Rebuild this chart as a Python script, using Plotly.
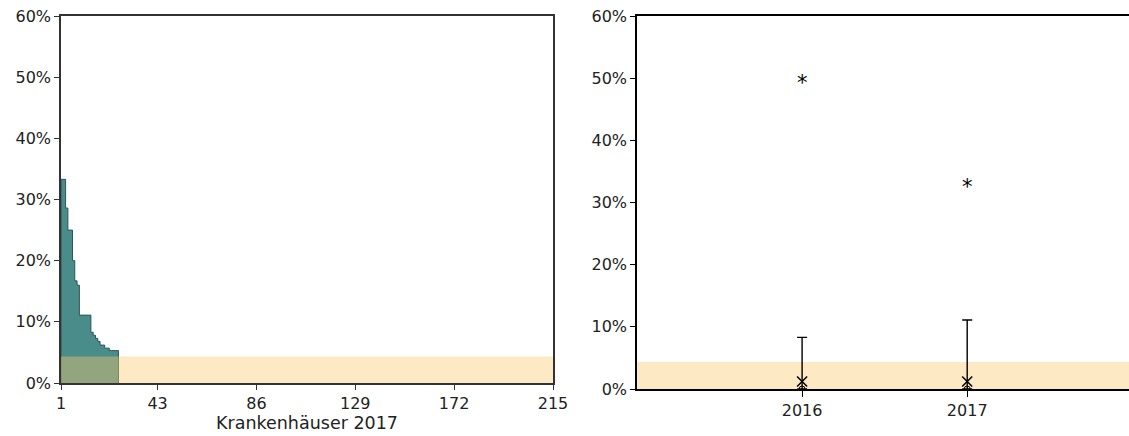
"""
Krankenhaus-Raten 2017: Verteilung je Haus und Vergleich 2016/2017
"""

import plotly.graph_objects as go

# Sortierte Raten je Krankenhaus 2017 (in %)
hospitals = list(range(1, 26))
rates_2017 = [33.3, 33.3, 28.6, 25.0, 25.0, 20.0, 16.7, 16.0, 11.1, 11.1,
              11.1, 11.1, 11.1, 8.3, 7.8, 7.3, 6.8, 6.2, 6.2, 5.7,
              5.7, 5.3, 5.3, 5.3, 5.3]
n_hospitals = 215
x_ticks = [1, 43, 86, 129, 172, 215]

# Referenzbereich (in %)
ref_value = 4.35

# Jahresvergleich
years = ['2016', '2017']
min_rates = [0.0, 0.0]
median_rates = [1.2, 1.2]
upper_rates = [8.3, 11.1]
max_rates = [50.0, 33.3]

y_ticks = [0, 10, 20, 30, 40, 50, 60]
y_labels = [f'{v}%' for v in y_ticks]

FONT = 'DejaVu Sans, Verdana, sans-serif'
W, H = 1129, 436

# Plotbereich in Pixeln (links 61, oben 16, unten 389)
L, T, B = 61, 16, 389
PW, PH = W - L, B - T

fig = go.Figure()

# Stufenfläche links
last = hospitals[-1] + 1
step_x = [1] + hospitals + [last, last]
step_y = [0] + rates_2017 + [rates_2017[-1], 0]
fig.add_trace(go.Scatter(
    x=step_x, y=step_y,
    mode='lines', line=dict(shape='hv', color='#2f5554', width=1),
    fill='tozeroy', fillcolor='#4a8c8a',
    xaxis='x', yaxis='y', showlegend=False, hoverinfo='skip'
))

# Rechte Seite: Whisker, Minimum, Median
fig.add_trace(go.Scatter(
    x=years, y=min_rates, mode='markers',
    marker=dict(symbol='circle-open', size=6, color='black', line=dict(width=1)),
    error_y=dict(type='data', symmetric=False,
                 array=[u - m for u, m in zip(upper_rates, min_rates)],
                 arrayminus=[0, 0], color='black', thickness=1.4, width=5),
    xaxis='x2', yaxis='y2', showlegend=False
))
fig.add_trace(go.Scatter(
    x=years, y=median_rates, mode='markers',
    marker=dict(symbol='x-thin-open', size=10, color='black',
                line=dict(width=1.5, color='black')),
    xaxis='x2', yaxis='y2', showlegend=False
))

# Maximum als Sternchen (Kategorieachse -> Position über Index)
for i, val in enumerate(max_rates):
    fig.add_annotation(x=i, y=val, xref='x2', yref='y2', text='*',
                       showarrow=False, yshift=-5,
                       font=dict(family=FONT, size=21, color='black'))

# Referenzbereich als Band
band = 'rgba(250,201,111,0.41)'
fig.add_shape(type='rect', xref='x domain', yref='y', x0=0, x1=1,
              y0=0, y1=ref_value, fillcolor=band, line_width=0, layer='above')
fig.add_shape(type='rect', xref='x2 domain', yref='y2', x0=0, x1=1,
              y0=0, y1=ref_value, fillcolor=band, line_width=0, layer='below')

axis_font = dict(family=FONT, size=16, color='#222')

fig.update_layout(
    width=W, height=H,
    margin=dict(l=L, r=0, t=T, b=H - B, autoexpand=False),
    plot_bgcolor='white', paper_bgcolor='white',
    font=axis_font,
    xaxis=dict(domain=[0, (553 - L) / PW], range=[1, n_hospitals],
               tickvals=x_ticks, ticks='outside', ticklen=5, tickcolor='#333',
               showline=True, linecolor='#333', linewidth=1.5, mirror=True,
               showgrid=False, zeroline=False, tickfont=axis_font,
               automargin=False,
               title=dict(text='Krankenhäuser 2017', standoff=4,
                          font=dict(family=FONT, size=17.5, color='#222'))),
    yaxis=dict(domain=[(B - 383) / PH, 1], range=[0, 60],
               tickvals=y_ticks, ticktext=y_labels, ticks='outside', ticklen=5,
               tickcolor='#333', showline=True, linecolor='#333', linewidth=1.5,
               mirror=True, showgrid=False, zeroline=False, tickfont=axis_font,
               automargin=False),
    xaxis2=dict(domain=[(637 - L) / PW, 1], range=[-1, 1.98], type='category',
                ticks='outside', ticklen=6, tickcolor='black',
                showline=True, linecolor='black', linewidth=1.5, mirror=True,
                showgrid=False, zeroline=False, tickfont=axis_font,
                automargin=False, anchor='y2'),
    yaxis2=dict(domain=[0, 1], range=[0, 60],
                tickvals=y_ticks, ticktext=y_labels, ticks='outside', ticklen=5,
                tickcolor='black', showline=True, linecolor='black', linewidth=1.5,
                showgrid=False, zeroline=False, tickfont=axis_font,
                automargin=False, anchor='x2'),
)

# Seitenrand des Browsers entfernen, damit die Grafik bei (0, 0) beginnt
fig.write_html('out.html', config={'displayModeBar': False},
               post_script="document.body.style.margin='0';"
                           "document.body.style.overflow='hidden';")
